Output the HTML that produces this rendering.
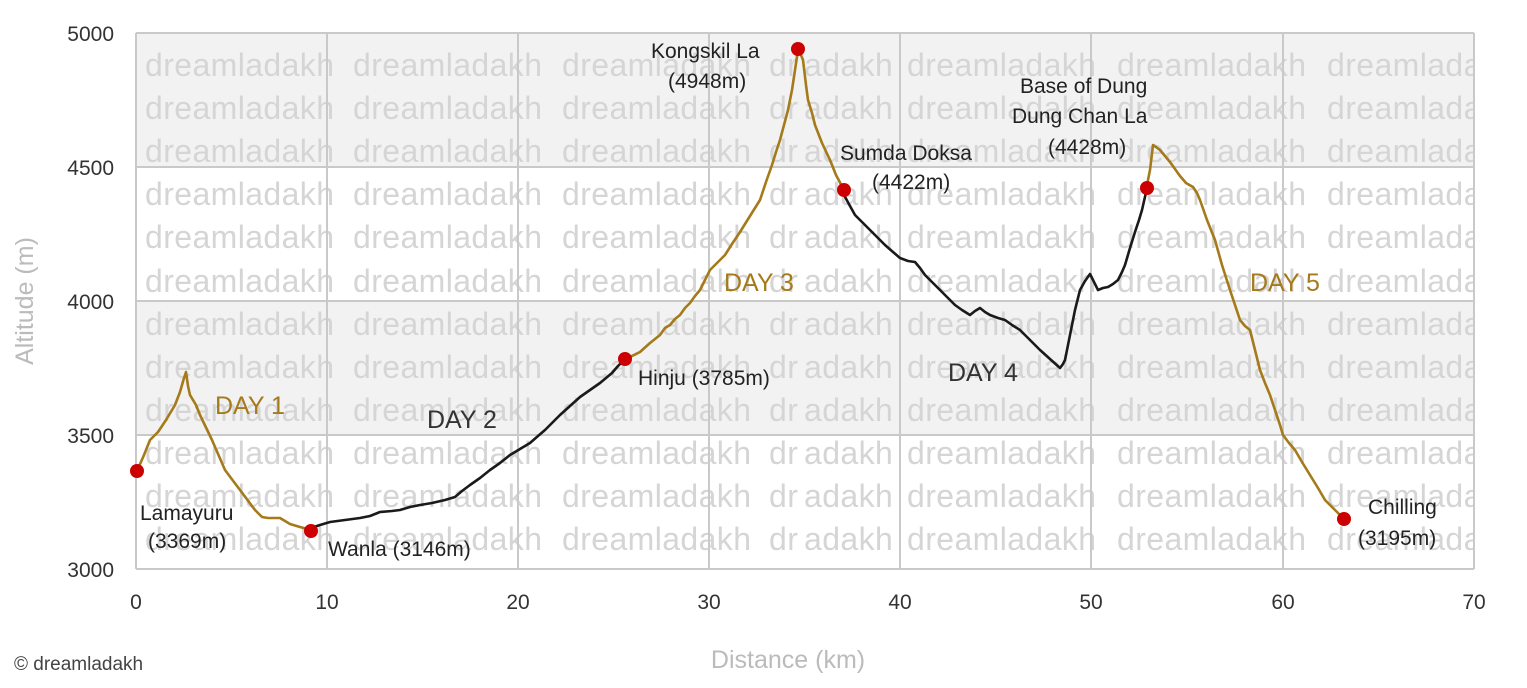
<!DOCTYPE html>
<html><head><meta charset="utf-8"><style>
html,body{margin:0;padding:0;background:#fff;}
svg{display:block;font-family:"Liberation Sans",sans-serif;}
</style></head><body>
<svg width="1527" height="688" viewBox="0 0 1527 688" xmlns="http://www.w3.org/2000/svg">
<defs>
<clipPath id="pc"><rect x="136" y="33" width="1338" height="536"/></clipPath>
</defs>
<rect x="136" y="33" width="1338" height="134" fill="#f2f2f2"/>
<rect x="136" y="301" width="1338" height="134" fill="#f2f2f2"/>
<g fill="#d5d5d5" font-size="32" letter-spacing="0.4" clip-path="url(#pc)">
<text><tspan x="145" y="76">dreamladakh</tspan><tspan x="145" y="119">dreamladakh</tspan><tspan x="145" y="162">dreamladakh</tspan><tspan x="145" y="205">dreamladakh</tspan><tspan x="145" y="248">dreamladakh</tspan><tspan x="145" y="292">dreamladakh</tspan><tspan x="145" y="335">dreamladakh</tspan><tspan x="145" y="378">dreamladakh</tspan><tspan x="145" y="421">dreamladakh</tspan><tspan x="145" y="464">dreamladakh</tspan><tspan x="145" y="507">dreamladakh</tspan><tspan x="145" y="550">dreamladakh</tspan></text>
<text><tspan x="353" y="76">dreamladakh</tspan><tspan x="353" y="119">dreamladakh</tspan><tspan x="353" y="162">dreamladakh</tspan><tspan x="353" y="205">dreamladakh</tspan><tspan x="353" y="248">dreamladakh</tspan><tspan x="353" y="292">dreamladakh</tspan><tspan x="353" y="335">dreamladakh</tspan><tspan x="353" y="378">dreamladakh</tspan><tspan x="353" y="421">dreamladakh</tspan><tspan x="353" y="464">dreamladakh</tspan><tspan x="353" y="507">dreamladakh</tspan><tspan x="353" y="550">dreamladakh</tspan></text>
<text><tspan x="562" y="76">dreamladakh</tspan><tspan x="562" y="119">dreamladakh</tspan><tspan x="562" y="162">dreamladakh</tspan><tspan x="562" y="205">dreamladakh</tspan><tspan x="562" y="248">dreamladakh</tspan><tspan x="562" y="292">dreamladakh</tspan><tspan x="562" y="335">dreamladakh</tspan><tspan x="562" y="378">dreamladakh</tspan><tspan x="562" y="421">dreamladakh</tspan><tspan x="562" y="464">dreamladakh</tspan><tspan x="562" y="507">dreamladakh</tspan><tspan x="562" y="550">dreamladakh</tspan></text>
<text><tspan x="769" y="76">dr</tspan><tspan x="769" y="119">dr</tspan><tspan x="769" y="162">dr</tspan><tspan x="769" y="205">dr</tspan><tspan x="769" y="248">dr</tspan><tspan x="769" y="292">dr</tspan><tspan x="769" y="335">dr</tspan><tspan x="769" y="378">dr</tspan><tspan x="769" y="421">dr</tspan><tspan x="769" y="464">dr</tspan><tspan x="769" y="507">dr</tspan><tspan x="769" y="550">dr</tspan></text>
<text><tspan x="804" y="76">adakh</tspan><tspan x="804" y="119">adakh</tspan><tspan x="804" y="162">adakh</tspan><tspan x="804" y="205">adakh</tspan><tspan x="804" y="248">adakh</tspan><tspan x="804" y="292">adakh</tspan><tspan x="804" y="335">adakh</tspan><tspan x="804" y="378">adakh</tspan><tspan x="804" y="421">adakh</tspan><tspan x="804" y="464">adakh</tspan><tspan x="804" y="507">adakh</tspan><tspan x="804" y="550">adakh</tspan></text>
<text><tspan x="907" y="76">dreamladakh</tspan><tspan x="907" y="119">dreamladakh</tspan><tspan x="907" y="162">dreamladakh</tspan><tspan x="907" y="205">dreamladakh</tspan><tspan x="907" y="248">dreamladakh</tspan><tspan x="907" y="292">dreamladakh</tspan><tspan x="907" y="335">dreamladakh</tspan><tspan x="907" y="378">dreamladakh</tspan><tspan x="907" y="421">dreamladakh</tspan><tspan x="907" y="464">dreamladakh</tspan><tspan x="907" y="507">dreamladakh</tspan><tspan x="907" y="550">dreamladakh</tspan></text>
<text><tspan x="1117" y="76">dreamladakh</tspan><tspan x="1117" y="119">dreamladakh</tspan><tspan x="1117" y="162">dreamladakh</tspan><tspan x="1117" y="205">dreamladakh</tspan><tspan x="1117" y="248">dreamladakh</tspan><tspan x="1117" y="292">dreamladakh</tspan><tspan x="1117" y="335">dreamladakh</tspan><tspan x="1117" y="378">dreamladakh</tspan><tspan x="1117" y="421">dreamladakh</tspan><tspan x="1117" y="464">dreamladakh</tspan><tspan x="1117" y="507">dreamladakh</tspan><tspan x="1117" y="550">dreamladakh</tspan></text>
<text><tspan x="1327" y="76">dreamladakh</tspan><tspan x="1327" y="119">dreamladakh</tspan><tspan x="1327" y="162">dreamladakh</tspan><tspan x="1327" y="205">dreamladakh</tspan><tspan x="1327" y="248">dreamladakh</tspan><tspan x="1327" y="292">dreamladakh</tspan><tspan x="1327" y="335">dreamladakh</tspan><tspan x="1327" y="378">dreamladakh</tspan><tspan x="1327" y="421">dreamladakh</tspan><tspan x="1327" y="464">dreamladakh</tspan><tspan x="1327" y="507">dreamladakh</tspan><tspan x="1327" y="550">dreamladakh</tspan></text>
</g>
<g stroke="#c9c9c9" stroke-width="2" fill="none">
<path d="M136 33H1474M136 167H1474M136 301H1474M136 435H1474M136 569H1474"/>
<path d="M136 33V569M327 33V569M518 33V569M709 33V569M900 33V569M1091 33V569M1283 33V569M1474 33V569"/>
</g>
<g fill="none" stroke-width="2.6" stroke-linejoin="round">
<polyline stroke="#a47a1a" points="137,471 144,455 150,440 158,432 166,420 175,405 180,392 184,378 186,372 188,386 190,395 196,405 200,415 212,440 225,470 240,490 255,510 262,517 268,518 280,518 290,524 300,527 311,530"/>
<polyline stroke="#1a1a1a" points="311,528 320,525 330,522 345,520 360,518 370,516 380,512 392,511 400,510 410,507 420,505 432,503 445,500 455,497 462,491 470,485 480,478 490,470 500,463 510,455 520,449 530,443 538,436 545,430 552,423 560,415 570,406 580,397 590,390 600,383 606,378 612,373 618,366 625,359"/>
<polyline stroke="#a47a1a" points="625,358 632,356 640,352 650,343 660,335 665,328 670,325 675,319 680,315 685,308 690,303 695,296 700,290 705,280 710,270 717,263 725,255 732,244 740,232 750,216 760,200 766,182 772,165 776,152 780,140 784,125 788,110 792,90 795,70 798,50 801,55 803,60 806,85 808,100 812,113 815,125 822,143 830,160 836,175 844,190"/>
<polyline stroke="#1a1a1a" points="844,195 850,206 855,215 862,222 870,230 878,238 885,245 893,252 900,258 908,261 915,262 920,268 925,275 932,282 940,290 948,298 955,305 962,310 970,315 975,311 980,308 985,312 990,315 998,318 1005,320 1012,325 1020,330 1030,340 1040,350 1050,359 1060,368 1063,364 1065,360 1070,335 1075,310 1080,290 1085,281 1090,274 1094,282 1098,290 1103,288 1108,287 1113,284 1118,280 1122,272 1125,265 1130,248 1135,232 1139,220 1142,210 1147,188"/>
<polyline stroke="#a47a1a" points="1147,185 1150,170 1153,145 1156,147 1160,150 1165,156 1170,162 1175,169 1180,176 1186,183 1193,187 1197,193 1200,200 1207,220 1215,240 1222,265 1230,290 1235,305 1240,320 1245,326 1250,330 1255,350 1260,370 1265,383 1270,395 1275,410 1280,425 1283,435 1289,443 1295,450 1302,462 1310,475 1318,488 1325,500 1334,509 1344,519"/>
</g>
<g fill="#cc0000">
<circle cx="137" cy="471" r="7"/><circle cx="311" cy="531" r="7"/><circle cx="625" cy="359" r="7"/>
<circle cx="798" cy="49" r="7"/><circle cx="844" cy="190" r="7"/><circle cx="1147" cy="188" r="7"/><circle cx="1344" cy="519" r="7"/>
</g>
<g fill="#222" font-size="21">
<text x="140" y="520">Lamayuru</text><text x="148" y="548">(3369m)</text>
<text x="328" y="556">Wanla (3146m)</text>
<text x="638" y="385">Hinju (3785m)</text>
<text x="651" y="58">Kongskil La</text><text x="668" y="88">(4948m)</text>
<text x="840" y="160">Sumda Doksa</text><text x="872" y="189">(4422m)</text>
<text x="1020" y="93">Base of Dung</text><text x="1012" y="123">Dung Chan La</text><text x="1048" y="154">(4428m)</text>
<text x="1368" y="514">Chilling</text><text x="1358" y="545">(3195m)</text>
</g>
<g font-size="25">
<text x="215" y="414" fill="#a47a1a">DAY 1</text>
<text x="427" y="428" fill="#333">DAY 2</text>
<text x="724" y="291" fill="#a47a1a">DAY 3</text>
<text x="948" y="381" fill="#333">DAY 4</text>
<text x="1250" y="291" fill="#a47a1a">DAY 5</text>
</g>
<g fill="#333" font-size="21" text-anchor="end">
<text x="114" y="41">5000</text><text x="114" y="175">4500</text><text x="114" y="309">4000</text><text x="114" y="443">3500</text><text x="114" y="577">3000</text>
</g>
<g fill="#333" font-size="21" text-anchor="middle">
<text x="136" y="609">0</text><text x="327" y="609">10</text><text x="518" y="609">20</text><text x="709" y="609">30</text><text x="900" y="609">40</text><text x="1091" y="609">50</text><text x="1283" y="609">60</text><text x="1474" y="609">70</text>
</g>
<text x="788" y="668" fill="#bbb" font-size="25" text-anchor="middle">Distance (km)</text>
<text transform="translate(33,301) rotate(-90)" fill="#bbb" font-size="25" text-anchor="middle">Altitude (m)</text>
<text x="14" y="670" fill="#444" font-size="19">© dreamladakh</text>
</svg>
</body></html>
